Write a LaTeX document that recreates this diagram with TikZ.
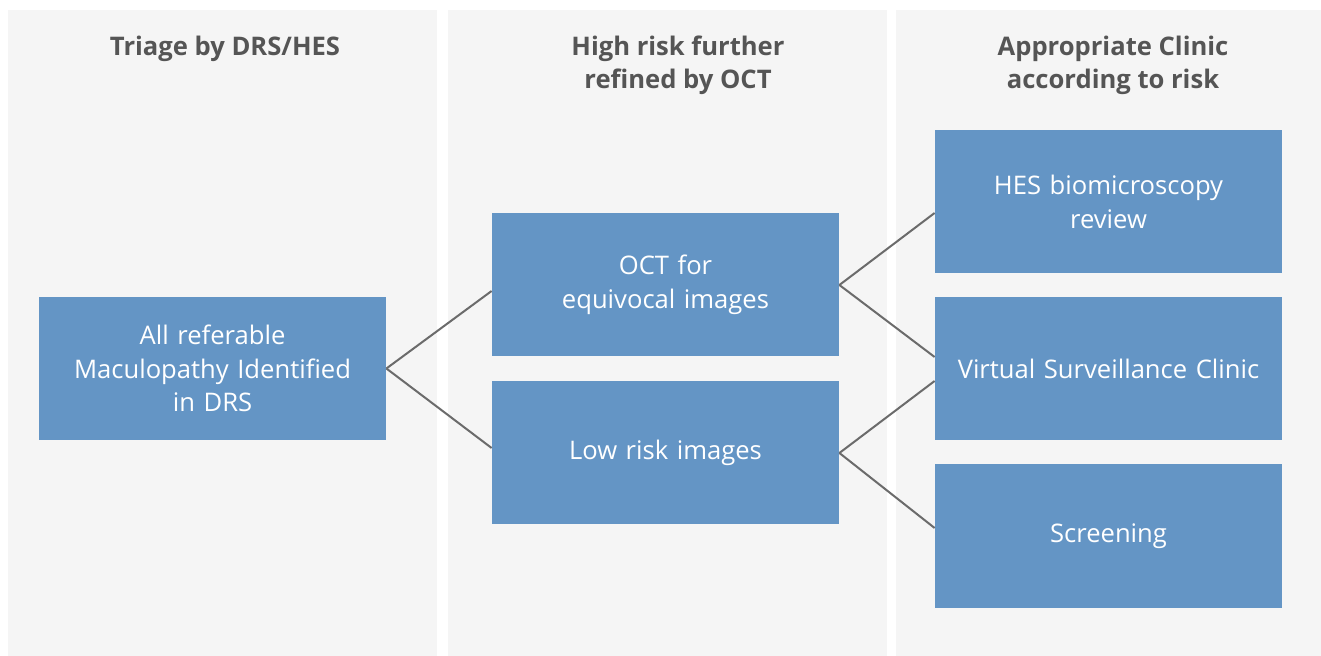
\documentclass[tikz,border=0pt]{standalone}
\usepackage{fontspec}
\setmainfont{Open Sans}
\definecolor{panelgrey}{HTML}{F5F5F5}
\definecolor{boxblue}{HTML}{6495C5}
\definecolor{titlegrey}{HTML}{555555}
\definecolor{linkgrey}{HTML}{6B6B6B}
\usetikzlibrary{positioning, calc}

\begin{document}
\begin{tikzpicture}[
  x=0.5pt, y=-0.5pt,
  panel/.style={fill=panelgrey, draw=none},
  coltitle/.style={font=\bfseries\fontsize{12.8}{16.5}\selectfont, text=titlegrey, align=center, anchor=center},
  bbox/.style={fill=boxblue, draw=none, minimum width=173.5pt, minimum height=71.5pt, text width=170pt, align=center, text=white, font=\fontsize{12.8}{16.75}\selectfont, inner sep=0pt},
  link/.style={draw=linkgrey, line width=1pt}
]
  \useasboundingbox (0,0) rectangle (1321,656);
  % column backgrounds
  \fill[panel] (8,10) rectangle (437,656);
  \fill[panel] (448,10) rectangle (887,656);
  \fill[panel] (896,10) rectangle (1321,656);

  % column headings
  \node[coltitle] (t1) at (225,49) {Triage by DRS/HES};
  \node[coltitle] (t2) at (678,65) {High risk further\\refined by OCT};
  \node[coltitle] (t3) at (1113,65) {Appropriate Clinic\\according to risk};

  % boxes
  \node[bbox] (drs) at (212.5,368.5) {All referable\\Maculopathy Identified\\in DRS};
  \node[bbox] (oct) at (665.5,285) {OCT for\\equivocal images};
  \node[bbox] (low) at (665.5,453) {Low risk images};
  \node[bbox] (hes) at (1108.5,202) {HES biomicroscopy\\review};
  \node[bbox] (vsc) at (1108.5,369) {Virtual Surveillance Clinic};
  \node[bbox] (scr) at (1108.5,536) {Screening};

  % connectors
  \draw[link] (drs.east) -- ([yshift=-3pt]oct.west);
  \draw[link] (drs.east) -- ([yshift=2.5pt]low.west);
  \draw[link] (oct.east) -- ([yshift=-5.5pt]hes.west);
  \draw[link] (oct.east) -- ([yshift=6pt]vsc.west);
  \draw[link] (low.east) -- ([yshift=-6pt]vsc.west);
  \draw[link] (low.east) -- ([yshift=4pt]scr.west);
\end{tikzpicture}
\end{document}
